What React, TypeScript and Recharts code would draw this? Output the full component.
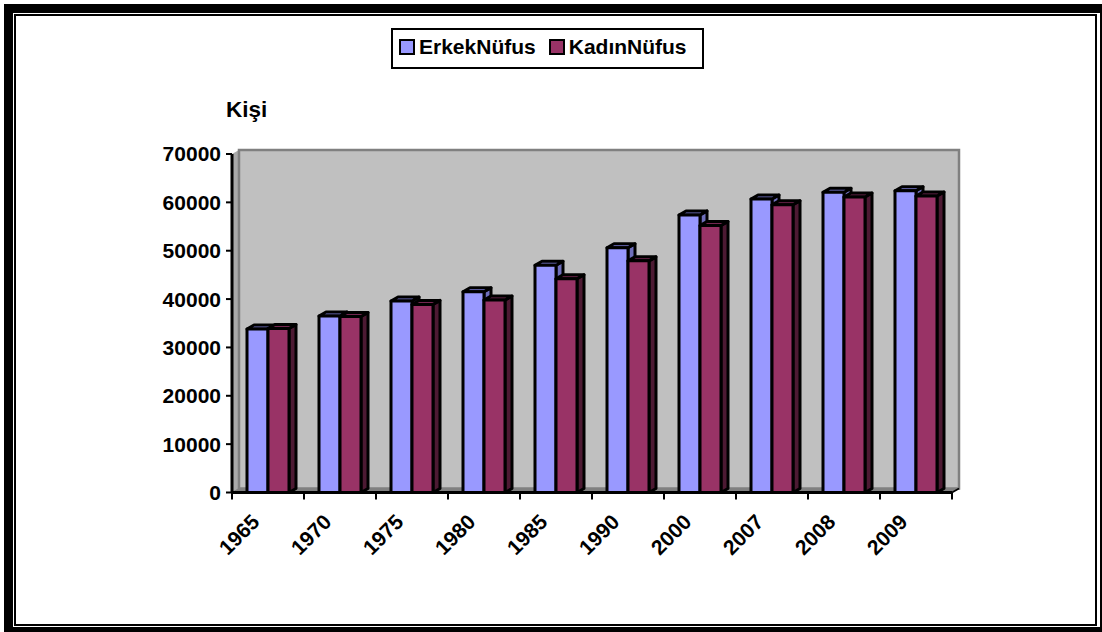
import { BarChart, Bar, XAxis, YAxis, Legend, Customized, usePlotArea } from "recharts";

const years = ["1965", "1970", "1975", "1980", "1985", "1990", "2000", "2007", "2008", "2009"];
const erkekNufus = [33800, 36500, 39600, 41500, 47000, 50600, 57400, 60700, 62100, 62400];
const kadinNufus = [33900, 36400, 38900, 39800, 44200, 47900, 55200, 59500, 61100, 61300];
const yTicks = [0, 10000, 20000, 30000, 40000, 50000, 60000, 70000];

const chartData = years.map((year, i) => ({
    year,
    ErkekNufus: erkekNufus[i],
    KadinNufus: kadinNufus[i],
}));

const FONT = "'Liberation Sans', Arial, sans-serif";
const DX = 7;
const DY = 4;

// back wall, side wall and floor of the 3D box
function Walls() {
    const p = usePlotArea();
    if (!p) return null;
    const { x, y, width: w, height: h } = p;
    const b = y + h;
    return (
        <g>
            <path
                d={`M${x},${y} L${x + DX},${y - DY} L${x + DX},${b - DY} L${x},${b} Z`}
                fill="#a9a9a9"
            />
            <rect
                x={x + DX}
                y={y - DY}
                width={w}
                height={h}
                fill="#c0c0c0"
                stroke="#808080"
                strokeWidth={2.5}
            />
            <path
                d={`M${x},${b} L${x + DX},${b - DY} L${x + w + DX},${b - DY} L${x + w},${b} Z`}
                fill="#808080"
                stroke="#808080"
                strokeWidth={1}
            />
            <line x1={x + w} y1={b} x2={x + w + DX} y2={b - DY} stroke="#000" strokeWidth={1.5} />
            <text x={226} y={117} fontFamily={FONT} fontSize={22.5} fontWeight="bold" fill="#000">
                Kişi
            </text>
        </g>
    );
}

function Bar3D(props: any) {
    const { x, y, width, height, fill, topFill, sideFill } = props;
    const r = x + width;
    const b = y + height;
    return (
        <g stroke="#000" strokeWidth={3} strokeLinejoin="round">
            <path d={`M${r},${y} L${r + DX},${y - DY} L${r + DX},${b - DY} L${r},${b} Z`} fill={sideFill} />
            <path d={`M${x},${y} L${x + DX},${y - DY} L${r + DX},${y - DY} L${r},${y} Z`} fill={topFill} />
            <rect x={x} y={y} width={width} height={height} fill={fill} />
        </g>
    );
}

function YearTick({ x, y, payload, index, visibleTicksCount }: any) {
    const band = 72;
    const last = index === visibleTicksCount - 1 || payload.value === years[years.length - 1];
    return (
        <g>
            <line x1={x - band / 2} y1={y - 8} x2={x - band / 2} y2={y - 1} stroke="#000" strokeWidth={2} />
            {last && <line x1={x + band / 2} y1={y - 8} x2={x + band / 2} y2={y - 1} stroke="#000" strokeWidth={2} />}
            <text
                x={x - 18}
                y={y + 12}
                textAnchor="end"
                transform={`rotate(-45 ${x - 18} ${y + 12})`}
                fontFamily={FONT}
                fontSize={21}
                fontWeight="bold"
                fill="#000"
                dominantBaseline="hanging"
            >
                {payload.value}
            </text>
        </g>
    );
}

function LegendBox() {
    const items = [
        { name: "ErkekNüfus", color: "#9999ff" },
        { name: "KadınNüfus", color: "#993366" },
    ];
    return (
        <div
            style={{
                boxSizing: "border-box",
                width: 313,
                height: 41,
                border: "2.5px solid #000",
                background: "#fff",
                display: "flex",
                alignItems: "center",
                paddingLeft: 6,
                paddingBottom: 3,
                fontFamily: FONT,
                fontWeight: "bold",
                fontSize: 21,
                color: "#000",
            }}
        >
            {items.map((item) => (
                <span key={item.name} style={{ display: "flex", alignItems: "center", marginRight: 13 }}>
                    <span
                        style={{
                            boxSizing: "border-box",
                            width: 16,
                            height: 16,
                            border: "2.5px solid #000",
                            background: item.color,
                            marginRight: 4,
                        }}
                    />
                    {item.name}
                </span>
            ))}
        </div>
    );
}

export default function App() {
    return (
        <div style={{ position: "absolute", left: 0, top: 0, width: 1102, height: 632, overflow: "hidden", background: "#fff" }}>
            {/* double frame round the picture */}
            <div style={{ position: "absolute", left: 4, top: 4, width: 1106, height: 632, boxSizing: "border-box", borderLeft: "9px solid #000", borderTop: "9px solid #000" }} />
            <div style={{ position: "absolute", left: 1100, top: 4, width: 2, height: 628, background: "#000" }} />
            <div style={{ position: "absolute", left: 4, top: 627, width: 1098, height: 5, background: "#000" }} />
            <div style={{ position: "absolute", left: 14, top: 14, width: 1083, height: 612, boxSizing: "border-box", border: "2px solid #000" }} />
            <BarChart
                width={1102}
                height={632}
                data={chartData}
                barGap={0}
                barCategoryGap={15}
                margin={{ top: 113, right: 150, bottom: 79.5, left: 160 }}
                style={{ position: "absolute", left: 0, top: 0 }}
            >
                <Customized component={<Walls />} />
                <XAxis
                    dataKey="year"
                    height={60}
                    axisLine={{ stroke: "#000", strokeWidth: 3 }}
                    tickLine={false}
                    tick={<YearTick />}
                    interval={0}
                />
                <YAxis
                    width={72}
                    domain={[0, 70000]}
                    ticks={yTicks}
                    interval={0}
                    axisLine={{ stroke: "#000", strokeWidth: 3 }}
                    tickLine={{ stroke: "#000", strokeWidth: 2 }}
                    tickSize={6}
                    tickMargin={5}
                    tick={{ fill: "#000", fontFamily: FONT, fontSize: 21, fontWeight: "bold" }}
                />
                <Legend
                    verticalAlign="top"
                    height={41}
                    content={<LegendBox />}
                    wrapperStyle={{ position: "absolute", left: 391, top: 28, width: 313, height: 41 }}
                />
                <Bar
                    dataKey="ErkekNufus"
                    isAnimationActive={false}
                    fill="#9999ff"
                    shape={(p: any) => <Bar3D {...p} fill="#9999ff" topFill="#7777cc" sideFill="#6f6fbb" />}
                />
                <Bar
                    dataKey="KadinNufus"
                    isAnimationActive={false}
                    fill="#993366"
                    shape={(p: any) => <Bar3D {...p} fill="#993366" topFill="#732650" sideFill="#4d1a33" />}
                />
            </BarChart>
        </div>
    );
}
